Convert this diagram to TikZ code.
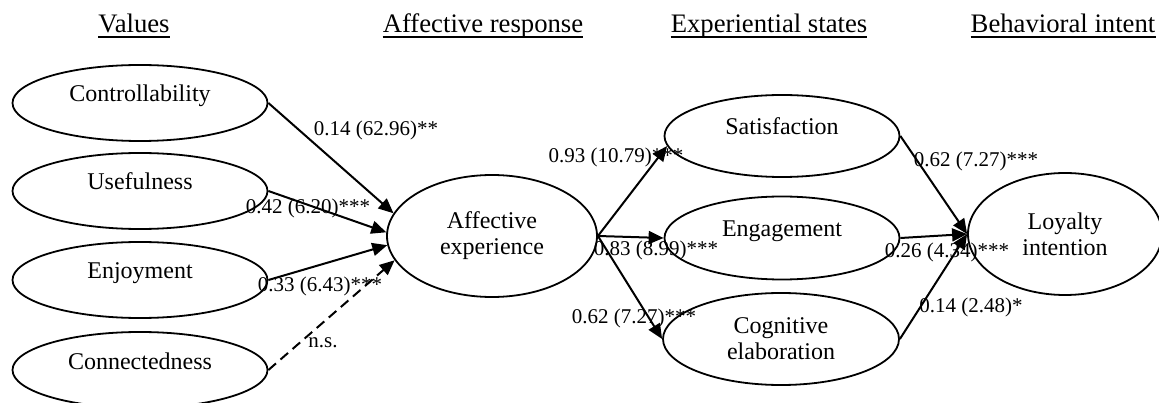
\documentclass[tikz,border=0pt]{standalone}
\usepackage{fontspec}
\setmainfont{Liberation Serif}
\usetikzlibrary{shapes.geometric,arrows.meta}
\begin{document}
\begin{tikzpicture}[x=1pt,y=-1pt,
  latent/.style={ellipse,draw,line width=1.8pt,inner sep=0pt,font=\fontsize{24}{26}\selectfont,align=center},
  oneline/.style={text height=16pt,text depth=18pt},
  pathline/.style={line width=2pt,-{Triangle[length=15pt,width=13pt]}},
  coef/.style={font=\fontsize{21}{24}\selectfont,inner sep=0pt},
  head/.style={font=\fontsize{26.7}{30}\selectfont,anchor=base,inner sep=0pt},
  uline/.style={line width=1.6pt}]
\useasboundingbox (0,0) rectangle (1159,403);

% headers
\node[head] (h1) at (134,33) {Values};
\node[head] (h2) at (483,33) {Affective response};
\node[head] (h3) at (769,33) {Experiential states};
\node[head] (h4) at (1063,33) {Behavioral intent};
\foreach \h in {h1,h2,h3,h4}
  \draw[uline] ([yshift=-4pt]\h.base west) -- ([yshift=-4pt]\h.base east);

% latent variables
\node[latent,oneline,minimum width=255pt,minimum height=76pt] (ctrl) at (140,103) {Controllability};
\node[latent,oneline,minimum width=255pt,minimum height=76pt] (use) at (140,191) {Usefulness};
\node[latent,oneline,minimum width=255pt,minimum height=76pt] (enj) at (140,280) {Enjoyment};
\node[latent,oneline,minimum width=255pt,minimum height=76pt] (con) at (140,370) {Connectedness};
\node[latent,minimum width=210pt,minimum height=122pt] (aff) at (492,236) {Affective\\experience};
\node[latent,oneline,minimum width=235pt,minimum height=82pt] (sat) at (782,136) {Satisfaction};
\node[latent,oneline,minimum width=235pt,minimum height=83pt] (eng) at (782,238) {Engagement};
\node[latent,minimum width=236pt,minimum height=92pt] (cog) at (781,339) {Cognitive\\elaboration};
\node[latent,minimum width=194pt,minimum height=122pt] (loy) at (1065,234) {Loyalty\\intention};

% paths
\draw[pathline] (ctrl.east) -- (aff.167);
\draw[pathline] (use.east) -- (aff.178);
\draw[pathline] (enj.east) -- (aff.185);
\draw[pathline,dash pattern=on 10pt off 6pt] (con.east) -- (aff.194);
\draw[pathline] (aff.east) -- (sat.185);
\draw[pathline] (aff.east) -- (eng.west);
\draw[pathline] (aff.east) -- (cog.west);
\draw[pathline] (sat.east) -- (loy.west);
\draw[pathline] (eng.east) -- (loy.west);
\draw[pathline] (cog.east) -- (loy.west);

% coefficients
\node[coef] (c1) at (376,130) {0.14 (62.96)**};
\node[coef] (c2) at (308,208) {0.42 (6.20)***};
\node[coef] (c3) at (320,286) {0.33 (6.43)***};
\node[coef] (c4) at (323,343) {n.s.};
\node[coef] (c5) at (616,157) {0.93 (10.79)***};
\node[coef] (c6) at (656,250) {0.83 (8.99)***};
\node[coef] (c7) at (634,318) {0.62 (7.27)***};
\node[coef] (c8) at (976,161) {0.62 (7.27)***};
\node[coef] (c9) at (947,252) {0.26 (4.34)***};
\node[coef] (c10) at (971,307) {0.14 (2.48)*};
\end{tikzpicture}
\end{document}
